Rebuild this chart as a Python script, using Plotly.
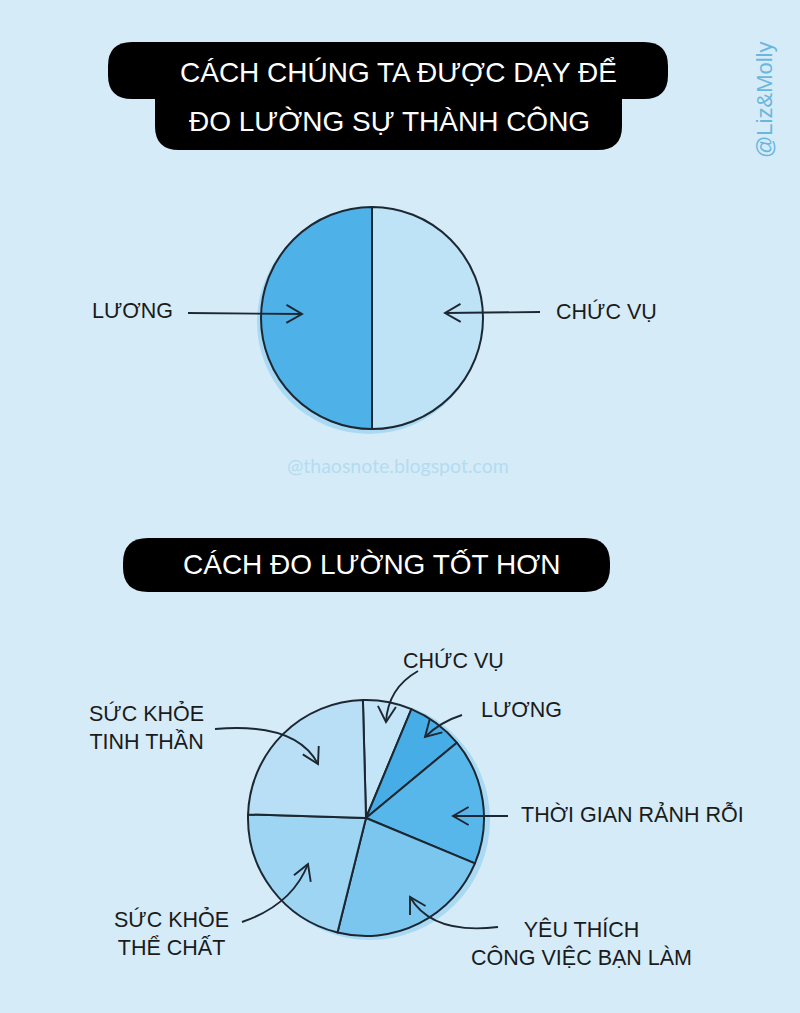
import math
import plotly.graph_objects as go

W, H = 800, 1013

# ---------------- data ----------------
title1_lines = ["CÁCH CHÚNG TA ĐƯỢC DẠY ĐỂ", "ĐO LƯỜNG SỰ THÀNH CÔNG"]
title2 = "CÁCH ĐO LƯỜNG TỐT HƠN"

pie1_labels = ["CHỨC VỤ", "LƯƠNG"]
pie1_values = [50, 50]
pie1_colors = ["#bee3f6", "#4eb1e7"]

pie2_labels = ["CHỨC VỤ", "LƯƠNG", "THỜI GIAN RẢNH RỖI",
               "YÊU THÍCH<br>CÔNG VIỆC BẠN LÀM", "SỨC KHỎE<br>THỂ CHẤT",
               "SỨC KHỎE<br>TINH THẦN"]
pie2_values = [6.7, 7.7, 17.3, 22.6, 21.6, 24.1]
pie2_colors = ["#c4e5f7", "#47ade6", "#58b7ea", "#7ac6ef", "#9ed5f3", "#b8dff5"]

watermark1 = "@Liz&Molly"
watermark2 = "@thaosnote.blogspot.com"

# ---------------- helpers ----------------
BG = "#d5ecf8"
INK = "#1c2731"


def px(x, y):
    return x / W, 1 - y / H


def pt(x, y):
    a, b = px(x, y)
    return f"{a:.5f},{b:.5f}"


def dom(cx, cy, r):
    return dict(x=[(cx - r) / W, (cx + r) / W], y=[1 - (cy + r) / H, 1 - (cy - r) / H])


def rrect(x0, y0, x1, y1, rt, rb):
    p = (f"M {pt(x0 + rt, y0)} L {pt(x1 - rt, y0)} Q {pt(x1, y0)} {pt(x1, y0 + rt)} "
         f"L {pt(x1, y1 - rb)} Q {pt(x1, y1)} {pt(x1 - rb, y1)} "
         f"L {pt(x0 + rb, y1)} Q {pt(x0, y1)} {pt(x0, y1 - rb)} "
         f"L {pt(x0, y0 + rt)} Q {pt(x0, y0)} {pt(x0 + rt, y0)} Z")
    return dict(type="path", xref="paper", yref="paper", path=p,
                fillcolor="#000000", line=dict(width=0), layer="above")


def arrow(p0, p1, ctrl=None, L=18, ang=30):
    shapes = []
    if ctrl is None:
        path = f"M {pt(*p0)} L {pt(*p1)}"
        d = (p1[0] - p0[0], p1[1] - p0[1])
    else:
        path = f"M {pt(*p0)} Q {pt(*ctrl)} {pt(*p1)}"
        d = (p1[0] - ctrl[0], p1[1] - ctrl[1])
    n = math.hypot(*d)
    ux, uy = d[0] / n, d[1] / n
    arms = []
    for s in (1, -1):
        a = math.radians(ang * s)
        rx = ux * math.cos(a) - uy * math.sin(a)
        ry = ux * math.sin(a) + uy * math.cos(a)
        arms.append((p1[0] - L * rx, p1[1] - L * ry))
    lw = 1.9
    shapes.append(dict(type="path", xref="paper", yref="paper", path=path,
                       line=dict(color=INK, width=lw), layer="above"))
    shapes.append(dict(type="path", xref="paper", yref="paper",
                       path=f"M {pt(*arms[0])} L {pt(*p1)} L {pt(*arms[1])}",
                       line=dict(color=INK, width=lw), layer="above"))
    return shapes


def circle(cx, cy, r, color):
    x0, y1 = px(cx - r, cy - r)
    x1, y0 = px(cx + r, cy + r)
    return dict(type="circle", xref="paper", yref="paper", x0=x0, x1=x1, y0=y0, y1=y1,
                fillcolor=color, line=dict(width=0), layer="below")


# ---------------- figure ----------------
fig = go.Figure()

P1 = (372, 318, 111)
P2 = (366, 818, 118)

fig.add_trace(go.Pie(labels=pie1_labels, values=pie1_values, sort=False,
                     direction="clockwise", rotation=0, textinfo="none",
                     hoverinfo="label", domain=dom(*P1),
                     marker=dict(colors=pie1_colors, line=dict(color=INK, width=2))))
fig.add_trace(go.Pie(labels=pie2_labels, values=pie2_values, sort=False,
                     direction="clockwise", rotation=-1.5, textinfo="none",
                     hoverinfo="label", domain=dom(*P2),
                     marker=dict(colors=pie2_colors, line=dict(color=INK, width=2))))

shapes = []
# soft shadows behind the pies
shapes.append(circle(P1[0] - 3, P1[1] + 4, P1[2] + 1, "#a9d9f3"))
shapes.append(circle(P2[0] + 4, P2[1] + 2, P2[2] + 2, "#a9d9f3"))

# title boxes
shapes.append(rrect(108, 42, 668, 99, 24, 24))
shapes.append(rrect(155, 90, 622, 150, 0, 24))
shapes.append(rrect(123, 538, 610, 592, 25, 25))

# arrows pie 1
shapes += arrow((188, 313), (302, 314))
shapes += arrow((540, 312), (445, 313))
# arrows pie 2
shapes += arrow((418, 671), (386, 722), ctrl=(388, 688))
shapes += arrow((462, 715), (425, 737), ctrl=(440, 722))
shapes += arrow((508, 816), (453, 816))
shapes += arrow((498, 927), (410, 897), ctrl=(432, 935))
shapes += arrow((242, 922), (308, 864), ctrl=(292, 905))
shapes += arrow((215, 729), (318, 764), ctrl=(296, 722))

annotations = []


def label(text, x, y, xanchor="left", align="left", size=21.5, color="#1b1b1b"):
    a, b = px(x, y)
    annotations.append(dict(text=text, x=a, y=b, xref="paper", yref="paper",
                            xanchor=xanchor, yanchor="middle", align=align,
                            showarrow=False,
                            font=dict(family="Liberation Sans, Arial, sans-serif",
                                      size=size, color=color)))


# titles
label(title1_lines[0], 398, 72, xanchor="center", align="center", size=28, color="#ffffff")
label(title1_lines[1], 389, 121, xanchor="center", align="center", size=28, color="#ffffff")
label(title2, 371, 564, xanchor="center", align="center", size=28, color="#ffffff")

# pie 1 labels
label(pie1_labels[1], 90, 311)
label(pie1_labels[0], 554, 312)

# pie 2 labels
label(pie2_labels[0], 401, 660)
label(pie2_labels[1], 479, 710)
label(pie2_labels[2], 519, 814)
label(pie2_labels[3], 581, 943, xanchor="center", align="center")
label(pie2_labels[4], 171, 933, xanchor="center", align="center")
label(pie2_labels[5], 146, 727, xanchor="center", align="center")

# watermarks
a, b = px(765, 100)
annotations.append(dict(text=watermark1, x=a, y=b, xref="paper", yref="paper",
                        textangle=-90, showarrow=False, xanchor="center", yanchor="middle",
                        font=dict(family="Liberation Sans, Arial, sans-serif", size=22,
                                  color="#6ab6de")))
a, b = px(398, 465)
annotations.append(dict(text=watermark2, x=a, y=b, xref="paper", yref="paper",
                        showarrow=False, xanchor="center", yanchor="middle",
                        font=dict(family="Lato, sans-serif", size=19.5, color="#b4dbf0")))

fig.update_layout(width=W, height=H, margin=dict(l=0, r=0, t=0, b=0),
                  paper_bgcolor=BG, plot_bgcolor=BG, showlegend=False,
                  shapes=shapes, annotations=annotations)

fig.write_html("out.html", config={"displayModeBar": False})
